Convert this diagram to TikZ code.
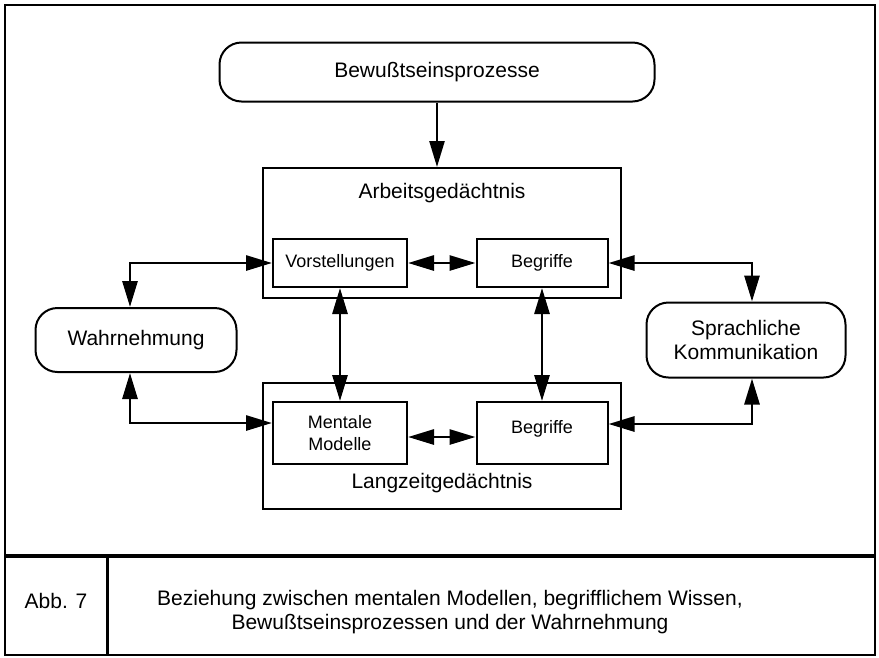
\documentclass[tikz,border=0pt]{standalone}
\usepackage{fontspec}
\setmainfont{Liberation Sans}
\usetikzlibrary{arrows.meta}

\begin{document}
\begin{tikzpicture}[x=1pt,y=-1pt,
  big/.style={font=\fontsize{21}{24}\selectfont},
  small/.style={font=\fontsize{18}{22}\selectfont},
  roundbox/.style={draw,line width=2pt,rounded corners=22pt,inner sep=0pt,align=center,big},
  membox/.style={draw,line width=2pt,inner sep=0pt},
  partbox/.style={draw,line width=2pt,inner sep=0pt,minimum width=134pt,align=center,small},
  onearrow/.style={line width=2.5pt,-{Triangle[length=26pt,width=15pt]}},
  biarrow/.style={line width=2.8pt,{Triangle[length=26pt,width=15pt]}-{Triangle[length=26pt,width=15pt]}}]

\useasboundingbox (0,0) rectangle (879,657);
\draw[line width=2.5pt] (5,5) rectangle (875,655);
\draw[line width=4pt] (5,556) -- (875,556);
\draw[line width=3pt] (107,556) -- (107,655);

\node[roundbox,minimum width=435pt,minimum height=59pt] (bewusst) at (437,72) {Bewußtseinsprozesse};

\node[membox,minimum width=358pt,minimum height=130pt] (arbeit) at (442,233) {};
\node[big] (arbeittext) at (442,193) {Arbeitsgedächtnis};
\node[partbox,minimum height=48pt] (vorst) at (340,263) {Vorstellungen};
\node[partbox,minimum width=131pt,minimum height=48pt] (begroben) at (542,263) {Begriffe};

\node[membox,minimum width=358pt,minimum height=126pt] (langzeit) at (442,446) {};
\node[big] (langzeittext) at (442,483) {Langzeitgedächtnis};
\node[partbox,minimum height=62pt] (mental) at (340,433) {Mentale\\Modelle};
\node[partbox,minimum width=131pt,minimum height=62pt,text depth=12pt] (begrunten) at (542,433) {Begriffe};

\node[roundbox,minimum width=201pt,minimum height=64pt] (wahr) at (136,340) {Wahrnehmung};
\node[roundbox,minimum width=199pt,minimum height=75pt] (sprach) at (746,340) {Sprachliche\\Kommunikation};

\draw[onearrow] (bewusst.south) -- (bewusst.south |- arbeit.north);
\draw[biarrow] (vorst.west) -| ([xshift=-6pt]wahr.north);
\draw[biarrow] ([xshift=-6pt]wahr.south) |- ([yshift=10pt]mental.west);
\draw[biarrow] (begroben.east) -| ([xshift=6pt]sprach.north);
\draw[biarrow] ([xshift=6pt]sprach.south) |- ([yshift=9pt]begrunten.east);
\draw[biarrow] (vorst) -- (mental);
\draw[biarrow] (begroben) -- (begrunten);
\draw[biarrow] (vorst) -- (begroben);
\draw[biarrow] ([yshift=-4pt]mental.east) -- ([yshift=-4pt]begrunten.west);

\node[big] (abb) at (56,601) {Abb. 7};
\node[big,align=center] (caption) at (450,612) {Beziehung zwischen mentalen Modellen, begrifflichem Wissen,\\Bewußtseinsprozessen und der Wahrnehmung};
\end{tikzpicture}
\end{document}
